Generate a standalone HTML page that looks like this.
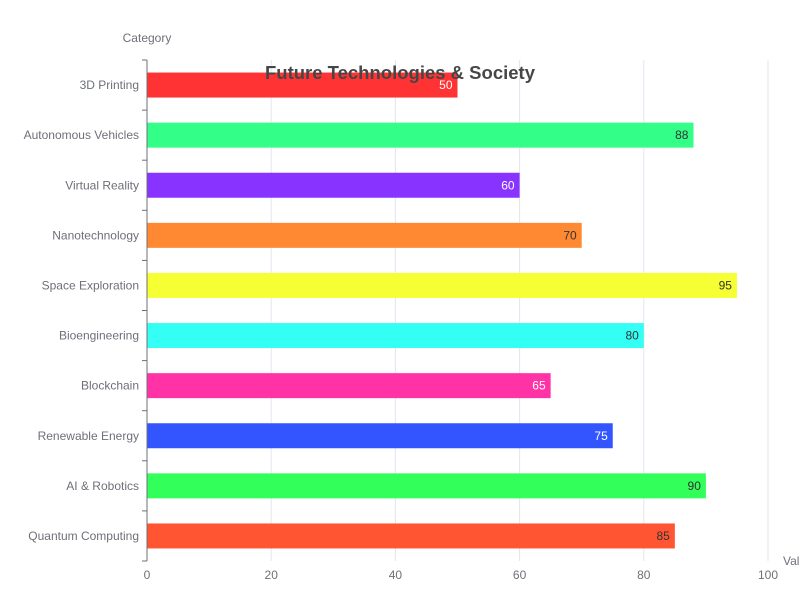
<!DOCTYPE html>
<html><head><meta charset="utf-8"><style>
html,body{margin:0;padding:0;background:#fff;}
svg{display:block;font-family:"Liberation Sans",sans-serif;}
</style></head><body>
<svg id="chart" width="800" height="600">
<text x="147" y="42" text-anchor="middle" font-size="12" fill="#6e7079">Category</text>
<text x="783" y="565" font-size="12" fill="#6e7079">Value</text>
<g id="grid"></g><g id="bars"></g><g id="axes"></g>
<text x="400" y="79" text-anchor="middle" font-size="18.5" font-weight="bold" fill="#464646">Future Technologies &amp; Society</text>
</svg>
<script>
const categories=["3D Printing","Autonomous Vehicles","Virtual Reality","Nanotechnology","Space Exploration","Bioengineering","Blockchain","Renewable Energy","AI & Robotics","Quantum Computing"];
const values=[50,88,60,70,95,80,65,75,90,85];
const colors=["#ff3333","#33ff88","#8833ff","#ff8833","#f5ff33","#33fff5","#ff33a5","#3355ff","#33ff5a","#ff5533"];
const labelColors=["#fff","#333","#fff","#333","#333","#333","#fff","#fff","#333","#333"];
const xTicks=[0,20,40,60,80,100];
const NS="http://www.w3.org/2000/svg";
const L=147,R=768,T=60,B=561;
const x=v=>L+(v/100)*(R-L);
const band=(B-T)/categories.length;
const y=i=>T+i*band;
function mk(tag,attrs,parent){const e=document.createElementNS(NS,tag);for(const k in attrs)e.setAttribute(k,attrs[k]);parent.appendChild(e);return e;}
const grid=document.getElementById('grid'),bars=document.getElementById('bars'),axes=document.getElementById('axes');
xTicks.forEach(t=>{
 if(t>0){const g=mk('line',{x1:x(t),x2:x(t),y1:T,y2:B,stroke:'#e0e6f1'},grid);
 
 }
 const tl=mk('text',{x:x(t),y:B+18,'text-anchor':'middle','font-size':12,fill:'#6e7079'},axes);tl.textContent=t;
 
 
});
categories.forEach((c,i)=>{
 const cy=y(i)+band/2;
 const r=mk('rect',{x:L,y:cy-12.5,width:x(values[i])-L,height:25,fill:colors[i]},bars);
 
 
 const v=mk('text',{x:x(values[i])-5,y:cy+4,'text-anchor':'end','font-size':12,fill:labelColors[i]},bars);v.textContent=values[i];
 
 
 const cl=mk('text',{x:L-8,y:cy+4,'text-anchor':'end','font-size':12,fill:'#6e7079'},axes);cl.textContent=c;
 
 
});
for(let i=0;i<=categories.length;i++){const tk=mk('line',{x1:L-5,x2:L,y1:y(i),y2:y(i),stroke:'#6e7079'},axes);
 
 }
const ax=mk('line',{x1:L,x2:L,y1:T,y2:B,stroke:'#6e7079'},axes);


</script>
</body></html>
